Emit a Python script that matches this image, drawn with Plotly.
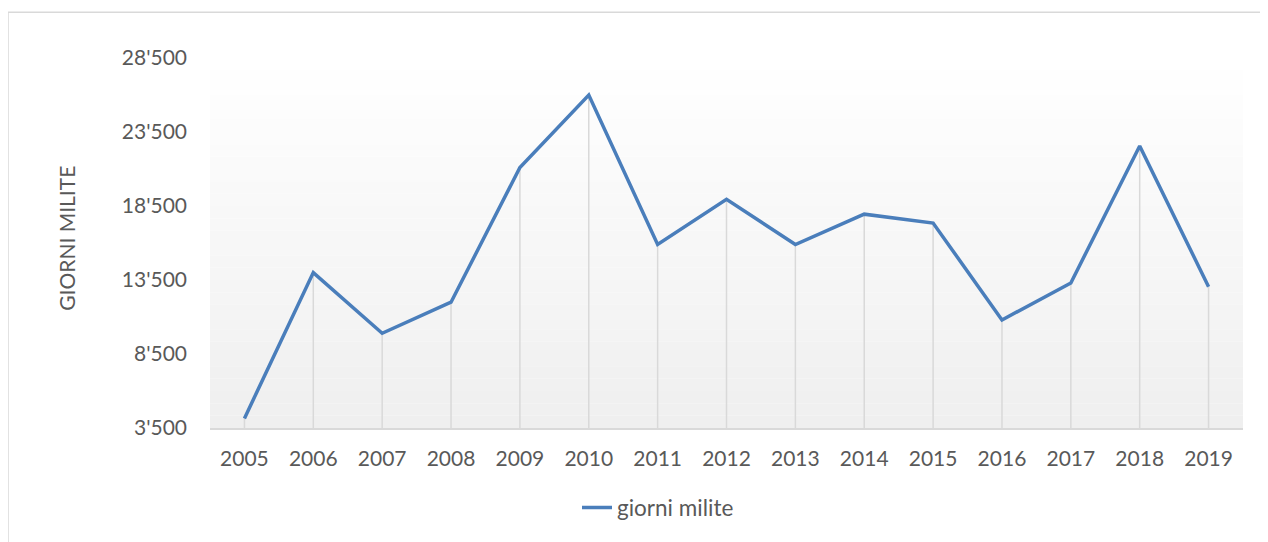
import plotly.graph_objects as go

years = ["2005", "2006", "2007", "2008", "2009", "2010", "2011", "2012",
         "2013", "2014", "2015", "2016", "2017", "2018", "2019"]
giorni_milite = [4150, 14000, 9900, 12000, 21100, 26000, 15900, 18950,
                 15900, 17950, 17350, 10800, 13300, 22550, 13050]
y_ticks = [3500, 8500, 13500, 18500, 23500, 28500]
y_tick_labels = ["3'500", "8'500", "13'500", "18'500", "23'500", "28'500"]
series_name = "giorni milite"
y_title = "GIORNI MILITE"

FONT = "Lato"
TXT = "#595959"
LINE = "#4A7EBB"
GRID = "#D9D9D9"
OFF = 8  # page body margin
W, H = 1268 - OFF, 542 - OFF
ML, MR, MT, MB = 210 - OFF, 25, 58 - OFF, 111.5
pw = W - ML - MR
ph = H - MT - MB


def px_x(x):
    return (x - OFF - ML) / pw


def px_y(y):
    return ((H - MB) - (y - OFF)) / ph


fig = go.Figure()

# drop lines from each point to the category axis
dx, dy = [], []
for yr, v in zip(years, giorni_milite):
    dx += [yr, yr, None]
    dy += [y_ticks[0], v, None]
fig.add_trace(go.Scatter(x=dx, y=dy, mode="lines", line=dict(color=GRID, width=1.5),
                         hoverinfo="skip", showlegend=False))

fig.add_trace(go.Scatter(x=years, y=giorni_milite, mode="lines", name=series_name,
                         line=dict(color=LINE, width=3.5)))

# gradient fill of the plot area (white at top -> light grey at bottom)
shapes = []
n = 30
for i in range(n):
    t = (i + 0.5) / n
    c = round(255 - (255 - 239) * t)
    shapes.append(dict(type="rect", xref="paper", yref="paper", layer="below",
                       x0=0, x1=1, y0=1 - (i + 1) / n, y1=1 - i / n,
                       fillcolor=f"rgb({c},{c},{c})", line=dict(width=0)))
# chart border (left + top visible)
shapes.append(dict(type="rect", xref="paper", yref="paper", layer="below",
                   x0=px_x(8), x1=px_x(1300), y0=px_y(600), y1=px_y(12),
                   line=dict(color=GRID, width=1.5), fillcolor="rgba(0,0,0,0)"))

fig.update_layout(
    width=W, height=H,
    margin=dict(l=ML, r=MR, t=MT, b=MB),
    paper_bgcolor="white", plot_bgcolor="rgba(0,0,0,0)",
    font=dict(family=FONT, size=21, color=TXT),
    shapes=shapes,
    showlegend=True,
    legend=dict(orientation="h", x=px_x(658), xanchor="center",
                y=px_y(511), yanchor="middle",
                font=dict(family=FONT, size=22.5, color=TXT),
                bgcolor="rgba(0,0,0,0)"),
    annotations=[dict(text=y_title, xref="paper", yref="paper",
                      x=px_x(67), y=px_y(240),
                      xanchor="center", yanchor="middle", textangle=-90,
                      showarrow=False, font=dict(family=FONT, size=21, color=TXT))],
)
fig.update_xaxes(type="category", range=[-0.5, len(years) - 0.5],
                 showgrid=False, showline=True, linecolor=GRID, linewidth=1.5,
                 ticks="", ticklabelstandoff=11, zeroline=False)
fig.update_yaxes(range=[y_ticks[0], y_ticks[-1]], tickvals=y_ticks, ticktext=y_tick_labels,
                 showgrid=False, showline=False, zeroline=False, ticks="",
                 ticklabelstandoff=22)

fig.write_html("out.html")
